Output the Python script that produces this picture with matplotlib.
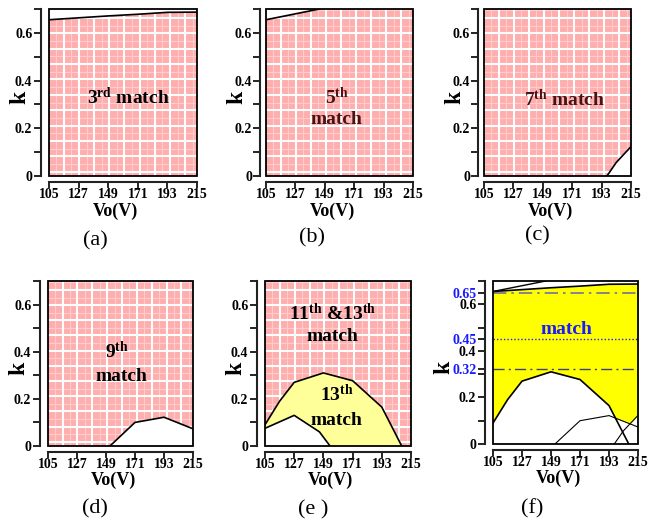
import numpy as np
import matplotlib
matplotlib.use('Agg')
import matplotlib.pyplot as plt
from matplotlib.collections import LineCollection
from matplotlib.patches import Rectangle

plt.rcParams['font.family'] = ['Liberation Serif', 'DejaVu Serif']
plt.rcParams['font.weight'] = 'bold'
plt.rcParams['mathtext.fontset'] = 'custom'
plt.rcParams['mathtext.rm'] = 'Liberation Serif:bold'
plt.rcParams['mathtext.bf'] = 'Liberation Serif:bold'
plt.rcParams['mathtext.it'] = 'Liberation Serif:bold'

# ---------------- data ----------------
vo_ticks = [105, 127, 149, 171, 193, 215]
k_ticks = [0, 0.2, 0.4, 0.6]
k_tick_labels = ['0', '0.2', '0.4', '0.6']
k_minor = [0.1, 0.3, 0.5, 0.7]
VO_MIN, VO_MAX = 105, 215
K_MAX = 0.70

# 3rd-match upper boundary
m3_vo = [105, 127, 149, 171, 193, 215]
m3_k = [0.655, 0.663, 0.671, 0.678, 0.686, 0.687]
# 5th-match upper boundary
m5_vo = [105, 145]
m5_k = [0.655, 0.70]
# 7th-match lower boundary
m7_vo = [197, 204, 215]
m7_k = [0.0, 0.057, 0.123]
# 9th-match lower boundary
m9_vo = [152, 171, 193, 215]
m9_k = [0.0, 0.100, 0.122, 0.073]
# 11th-match lower boundary (13th-only region top)
m11_vo = [105, 116, 127, 149, 171, 193, 208]
m11_k = [0.09, 0.19, 0.27, 0.31, 0.277, 0.165, 0.0]
# 13th-match lower boundary
m13_vo = [105, 127, 146, 154]
m13_k = [0.075, 0.13, 0.06, 0.0]
# reference levels in (f)
ref_levels = [0.65, 0.45, 0.32]
ref_labels = ['0.65', '0.45', '0.32']

PINK = '#ffaeae'
W, H = 650, 526
fig = plt.figure(figsize=(W / 100, H / 100), dpi=100)


def make_ax(l, t, r, b, ylab_x=-0.2, spine_off=6):
    ax = fig.add_axes([l / W, (H - b) / H, (r - l) / W, (b - t) / H])
    ax.set_xlim(VO_MIN, VO_MAX)
    ax.set_ylim(0, K_MAX)
    ax.spines['top'].set_visible(False)
    ax.spines['right'].set_visible(False)
    ax.spines['left'].set_position(('outward', spine_off))
    ax.spines['bottom'].set_position(('outward', 4))
    for s in ('left', 'bottom'):
        ax.spines[s].set_linewidth(1.5)
        ax.spines[s].set_color('#222222')
    ax.set_xticks(vo_ticks)
    ax.set_yticks(k_ticks)
    ax.set_yticklabels(k_tick_labels)
    ax.set_yticks(k_minor, minor=True)
    ax.tick_params(axis='y', which='both', direction='out', length=5, width=1.2,
                   pad=1, labelsize=10)
    ax.tick_params(axis='x', direction='out', length=4, width=1.2, pad=0.5, labelsize=10)
    ax.set_xlabel('Vo(V)', fontsize=13, fontweight='bold')
    ax.xaxis.label.set_verticalalignment('center')
    ax.xaxis.set_label_coords(0.45, -0.21)
    ax.set_ylabel('k', fontsize=17, fontweight='bold')
    ax.yaxis.label.set_verticalalignment('center')
    ax.yaxis.set_label_coords(ylab_x, 0.47)
    ax.add_patch(Rectangle((0, 0), 1, 1, transform=ax.transAxes, fill=False,
                           lw=1.3, ec='black', zorder=6, clip_on=False))
    return ax


def add_grid(ax, patch):
    major, minor = [], []
    for fx in np.arange(0.10, 1.0, 0.1025):
        major.append([(fx, 0), (fx, 1)])
        minor.append([(fx - 0.051, 0), (fx - 0.051, 1)])
    minor.append([(0.1025 * 9 + 0.051, 0), (0.1025 * 9 + 0.051, 1)])
    for fy in np.arange(0.026, 1.0, 0.092):
        major.append([(0, fy), (1, fy)])
        minor.append([(0, fy + 0.046), (1, fy + 0.046)])
    lc2 = LineCollection(minor, colors='#ffcccc', linewidths=0.8,
                         transform=ax.transAxes, zorder=1.5)
    lc2.set_clip_path(patch)
    ax.add_collection(lc2, autolim=False)
    lc = LineCollection(major, colors='white', linewidths=1.5,
                        transform=ax.transAxes, zorder=1.6)
    lc.set_clip_path(patch)
    ax.add_collection(lc, autolim=False)


def pink_poly(ax, xs, ks):
    p = ax.fill(xs, ks, color=PINK, lw=0, zorder=1)[0]
    add_grid(ax, p)
    return p


# ---------- (a) ----------
ax = make_ax(49, 9, 197, 176)
pink_poly(ax, [VO_MIN] + m3_vo + [VO_MAX], [0] + m3_k + [0])
ax.plot(m3_vo, m3_k, color='black', lw=1.2, zorder=5)
ax.text(164, 0.33, r'3$^{\rm rd}$ match', fontsize=14, ha='center', va='center', zorder=7)

# ---------- (b) ----------
ax = make_ax(266, 9, 413, 176, spine_off=4)
pink_poly(ax, [VO_MIN] + m5_vo + [VO_MAX, VO_MAX], [0] + m5_k + [K_MAX, 0])
ax.plot(m5_vo, m5_k, color='black', lw=1.2, zorder=5)
ax.text(158, 0.33, r'5$^{\rm th}$', fontsize=14, ha='center', va='center',
        color='#4a1212', zorder=7)
ax.text(158, 0.235, 'match', fontsize=14, ha='center', va='center',
        color='#4a1212', zorder=7)

# ---------- (c) ----------
ax = make_ax(484, 9, 631, 176, spine_off=4)
pink_poly(ax, [VO_MIN, VO_MIN, VO_MAX] + m7_vo[::-1],
          [0, K_MAX, K_MAX] + m7_k[::-1])
ax.plot(m7_vo, m7_k, color='black', lw=1.2, zorder=5)
ax.text(165, 0.32, r'7$^{\rm th}$ match', fontsize=14, ha='center', va='center',
        color='#4a1212', zorder=7)

# ---------- (d) ----------
ax = make_ax(48, 281, 193, 446)
pink_poly(ax, [VO_MIN, VO_MIN, VO_MAX] + m9_vo[::-1],
          [0, K_MAX, K_MAX] + m9_k[::-1])
ax.plot(m9_vo, m9_k, color='black', lw=1.2, zorder=5)
ax.text(157, 0.40, r'9$^{\rm th}$', fontsize=14, ha='center', va='center', zorder=7)
ax.text(161, 0.295, 'match', fontsize=14, ha='center', va='center', zorder=7)

# ---------- (e) ----------
ax = make_ax(265, 281, 411, 446)
pink_poly(ax, [VO_MIN, VO_MIN, VO_MAX, VO_MAX], [0, K_MAX, K_MAX, 0])
ax.fill(m11_vo + [VO_MIN], m11_k + [0], color='#ffff99', lw=0, zorder=2)
ax.plot(m11_vo, m11_k, color='black', lw=1.2, zorder=5)
ax.fill(m13_vo + [VO_MIN], m13_k + [0], color='white', lw=0, zorder=3)
ax.plot(m13_vo, m13_k, color='black', lw=1.2, zorder=5)
ax.text(156, 0.56, r'11$^{\rm th}$ &13$^{\rm th}$', fontsize=14, ha='center',
        va='center', zorder=7)
ax.text(156, 0.464, 'match', fontsize=14, ha='center', va='center', zorder=7)
ax.text(159, 0.22, r'13$^{\rm th}$', fontsize=14, ha='center', va='center', zorder=7)
ax.text(159, 0.11, 'match', fontsize=14, ha='center', va='center', zorder=7)

# ---------- (f) ----------
ax = make_ax(493, 281, 638, 444, ylab_x=-0.34, spine_off=6)
xx = np.linspace(VO_MIN, VO_MAX, 600)
upper = np.interp(xx, m3_vo, m3_k)
low_11 = np.interp(xx, m11_vo, m11_k, left=0, right=0)
low_9 = np.interp(xx, m9_vo, m9_k, left=0, right=0)
low_7 = np.interp(xx, m7_vo, m7_k, left=0, right=0)
lower = np.maximum.reduce([low_11, low_9, low_7])
ax.fill_between(xx, lower, upper, color='#ffff00', lw=0, zorder=1)
ax.plot(m3_vo, m3_k, color='black', lw=1.2, zorder=5)
ax.plot(m5_vo, m5_k, color='black', lw=1.0, zorder=5)
ax.plot(m11_vo, m11_k, color='black', lw=1.2, zorder=5)
ax.plot(m9_vo, m9_k, color='black', lw=0.8, zorder=5)
ax.plot(m7_vo, m7_k, color='black', lw=0.8, zorder=5)
ax.axhline(ref_levels[0], color='#7070a0', lw=1.2, ls=(0, (8, 3, 1.5, 3)), zorder=4)
ax.axhline(ref_levels[1], color='#1a1aff', lw=1.0, ls=(0, (1, 1.5)), zorder=4)
ax.axhline(ref_levels[2], color='#404070', lw=1.0, ls=(0, (8, 3, 1.5, 3)), zorder=4)
ax.set_yticks(k_ticks + ref_levels)
ax.set_yticklabels(k_tick_labels + ref_labels)
for lbl in ax.get_yticklabels()[4:]:
    lbl.set_color('#1a1aff')
ax.text(160.4, 0.49, 'match', fontsize=14, ha='center', va='center',
        color='#1a1aff', zorder=7)

# ---------- captions ----------
captions = ['(a)', '(b)', '(c)', '(d)', '(e )', '(f)']
cap_pos = [(95, 241), (312, 238), (537, 236), (95, 509), (313, 510), (532, 509)]
for c, (px, py) in zip(captions, cap_pos):
    fig.text(px / W, 1 - py / H, c, fontsize=16, fontweight='normal',
             ha='center', va='center')

fig.savefig('out.png', dpi=100)
